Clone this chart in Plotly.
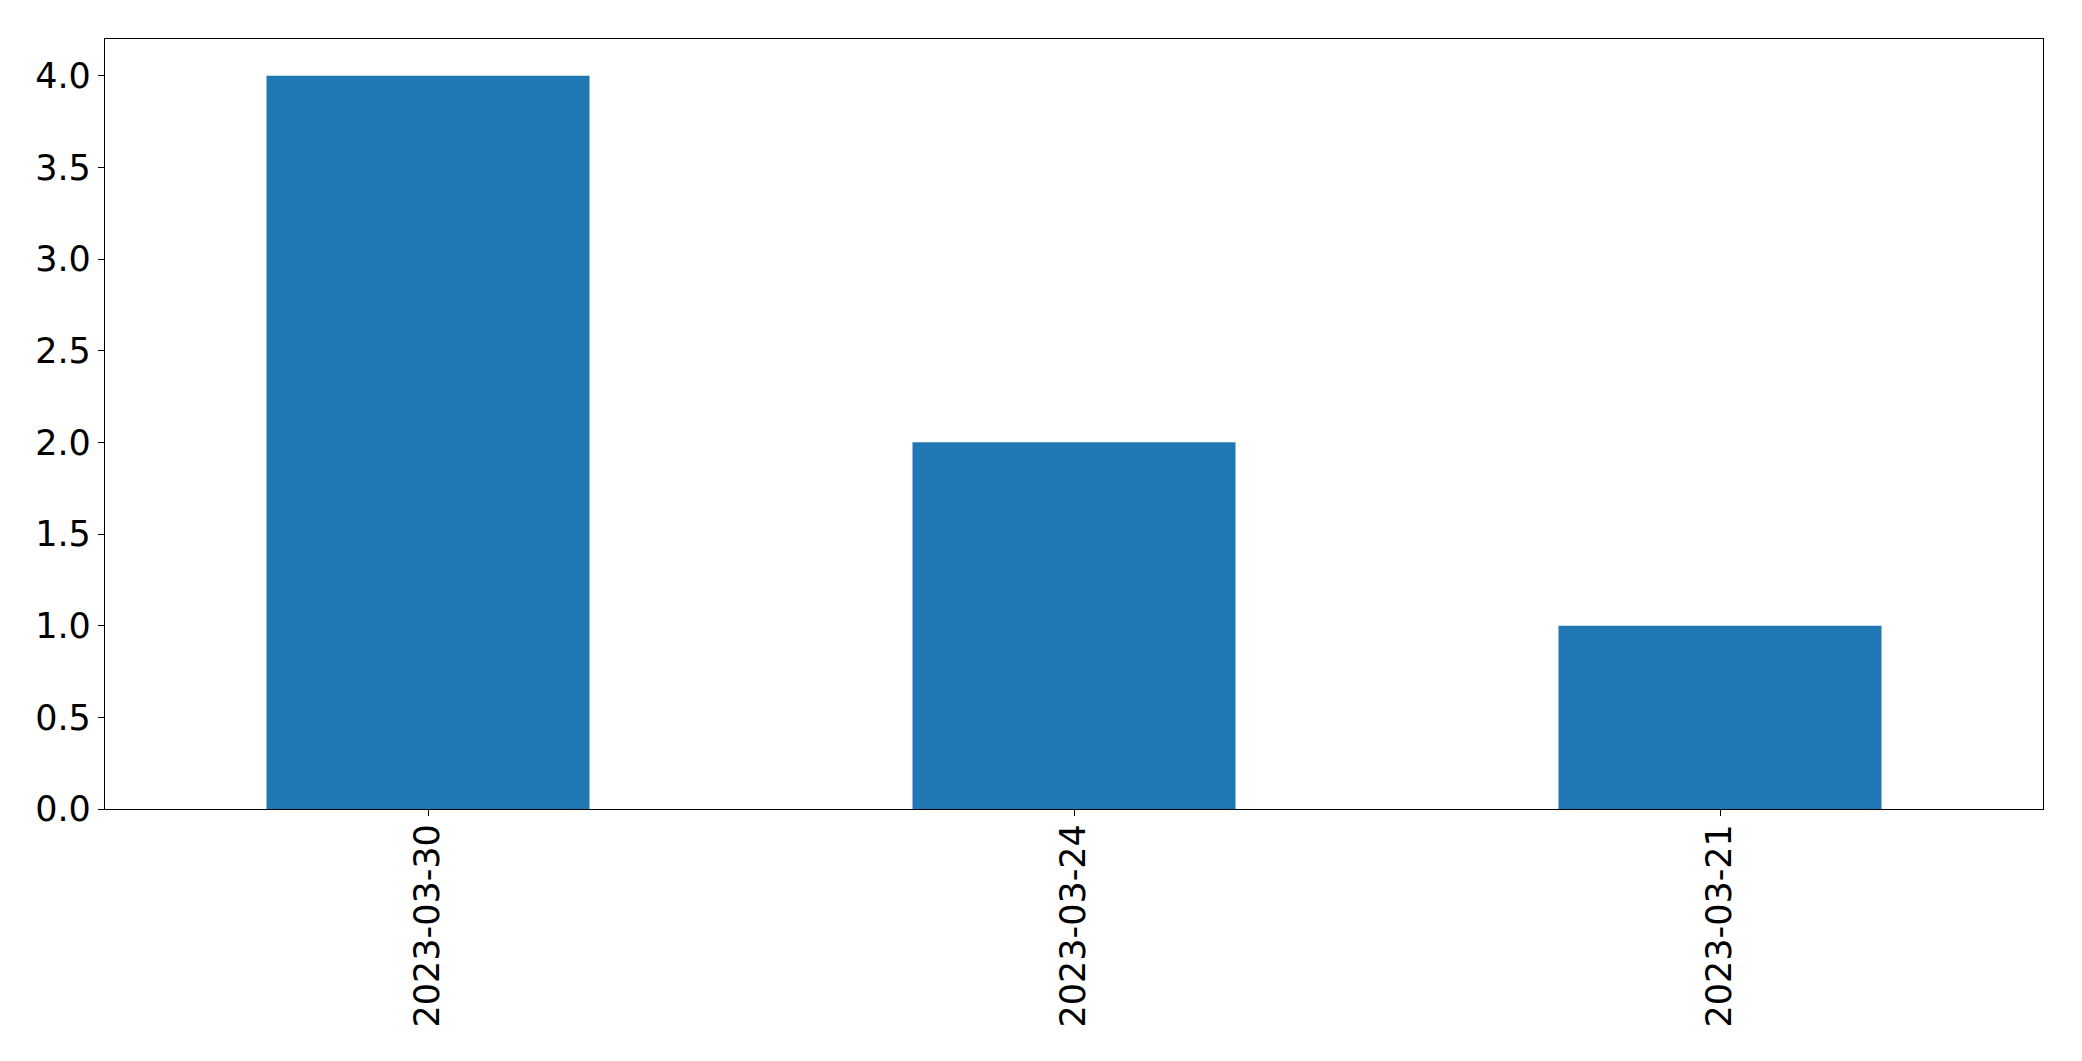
import plotly.graph_objects as go

categories = ["2023-03-30", "2023-03-24", "2023-03-21"]
values = [4, 2, 1]
y_ticks = [0.0, 0.5, 1.0, 1.5, 2.0, 2.5, 3.0, 3.5, 4.0]
y_tick_labels = ["0.0", "0.5", "1.0", "1.5", "2.0", "2.5", "3.0", "3.5", "4.0"]

fig = go.Figure(go.Bar(x=categories, y=values, width=0.5, marker=dict(color="#1f77b4", line=dict(width=0))))

fig.update_layout(
    width=2082, height=1061,
    margin=dict(l=97, r=47, t=31, b=260),
    plot_bgcolor="white", paper_bgcolor="white",
    font=dict(family="DejaVu Sans", size=35, color="black"),
    showlegend=False,
    bargap=0.5,
)
fig.update_xaxes(
    type="category", range=[-0.5, 2.5], tickangle=-90,
    showline=True, linecolor="black", linewidth=1.3, mirror=True,
    ticks="outside", ticklen=6, tickcolor="black", tickwidth=1.3,
    showgrid=False, zeroline=False, automargin=False,
    ticklabelstandoff=-6,
)
fig.update_yaxes(
    range=[0, 4.2], tickvals=y_ticks, ticktext=y_tick_labels,
    showline=True, linecolor="black", linewidth=1.3, mirror=True,
    ticks="outside", ticklen=6, tickcolor="black", tickwidth=1.3,
    showgrid=False, zeroline=False, automargin=False,
)
fig.write_html("out.html")
